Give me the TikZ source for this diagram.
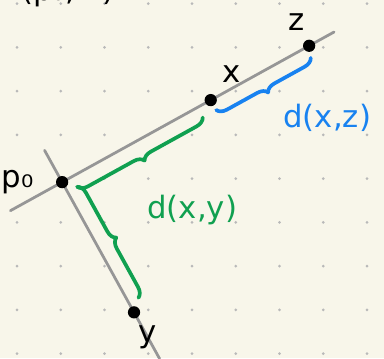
\documentclass[tikz,border=0pt]{standalone}
\usepackage{fontspec}
\setmainfont{DejaVu Sans}
\usetikzlibrary{calc, positioning, backgrounds, decorations.pathreplacing}
\definecolor{bgcream}{RGB}{248,246,234}
\definecolor{dotgray}{RGB}{185,185,185}
\definecolor{linegray}{RGB}{150,150,150}
\definecolor{braceblue}{RGB}{24,130,240}
\definecolor{bracegreen}{RGB}{16,160,80}
\tikzset{
    ptdot/.style={circle, fill=black, inner sep=0pt, minimum size=0.28cm},
    refline/.style={draw=linegray, line width=1.8pt, line cap=round},
    distbrace/.style={draw=#1, line width=2.4pt, line cap=round, line join=round, decorate, decoration={brace, amplitude=0.22cm}},
    ptlabel/.style={font=\fontsize{20}{24}\selectfont, inner sep=0pt},
    distlabel/.style={font=\fontsize{20}{24}\selectfont, text=#1, inner sep=0pt, anchor=base west},
    griddot/.style={fill=dotgray}
}

\begin{document}
\begin{tikzpicture}

\useasboundingbox (0,0) rectangle (8.777,8.183);

% points on the two lines
\node[ptdot] (p0) at (1.42,4.02) {};
\node[ptdot] (x) at ($(p0)+(28.9:3.88)$) {};
\node[ptdot] (z) at ($(p0)+(28.9:6.45)$) {};
\node[ptdot] (y) at ($(p0)+(-61.1:3.40)$) {};

\coordinate (l1a) at ($(p0)+(208.9:1.35)$);
\coordinate (l1b) at ($(p0)+(28.9:7.10)$);
\coordinate (l2a) at ($(p0)+(118.9:0.83)$);
\coordinate (l2b) at ($(p0)+(-61.1:4.61)$);

\begin{scope}[on background layer]
    \fill[bgcream] (0,0) rectangle (8.777,8.183);
    \foreach \i in {0,...,8} {
        \foreach \j in {0,...,8} {
            \fill[griddot] (0.39+\i,0.10+\j) circle (0.035);
        }
    }
    \draw[refline] (l1a) -- (l1b);
    \draw[refline] (l2a) -- (l2b);
\end{scope}

% brace ends
\coordinate (bx) at ($(x)+(-61.1:0.26)$);
\coordinate (bz) at ($(z)+(-61.1:0.26)+(208.9:0.1)$);
\coordinate (gc) at ($(p0)+(28.9:0.25)+(-61.1:0.26)$);
\coordinate (gx) at ($(x)+(208.9:0.35)+(-61.1:0.26)$);
\coordinate (gy) at ($(y)+(118.9:0.24)+(28.9:0.25)$);

\draw[distbrace=braceblue, decoration={mirror}] (bx) -- (bz);
\draw[distbrace=bracegreen, decoration={mirror}] (gc) -- (gx);
\draw[distbrace=bracegreen] (gc) -- (gy);

\node[ptlabel, left=0.5cm of p0] (p0lab) {p₀};
\node[ptlabel, above right=0.3cm and 0.15cm of x] (xlab) {x};
\node[ptlabel, above=0.2cm of z, xshift=-0.28cm] (zlab) {z};
\node[ptlabel, below=0.15cm of y, xshift=0.3cm] (ylab) {y};

\node[distlabel=braceblue] (dxz) at (6.47,5.28) {d(x,z)};
\node[distlabel=bracegreen] (dxy) at (3.36,3.20) {d(x,y)};

\node[ptlabel, anchor=base west] (title) at (0.48,8.17) {(p₀, v)};

\end{tikzpicture}
\end{document}
